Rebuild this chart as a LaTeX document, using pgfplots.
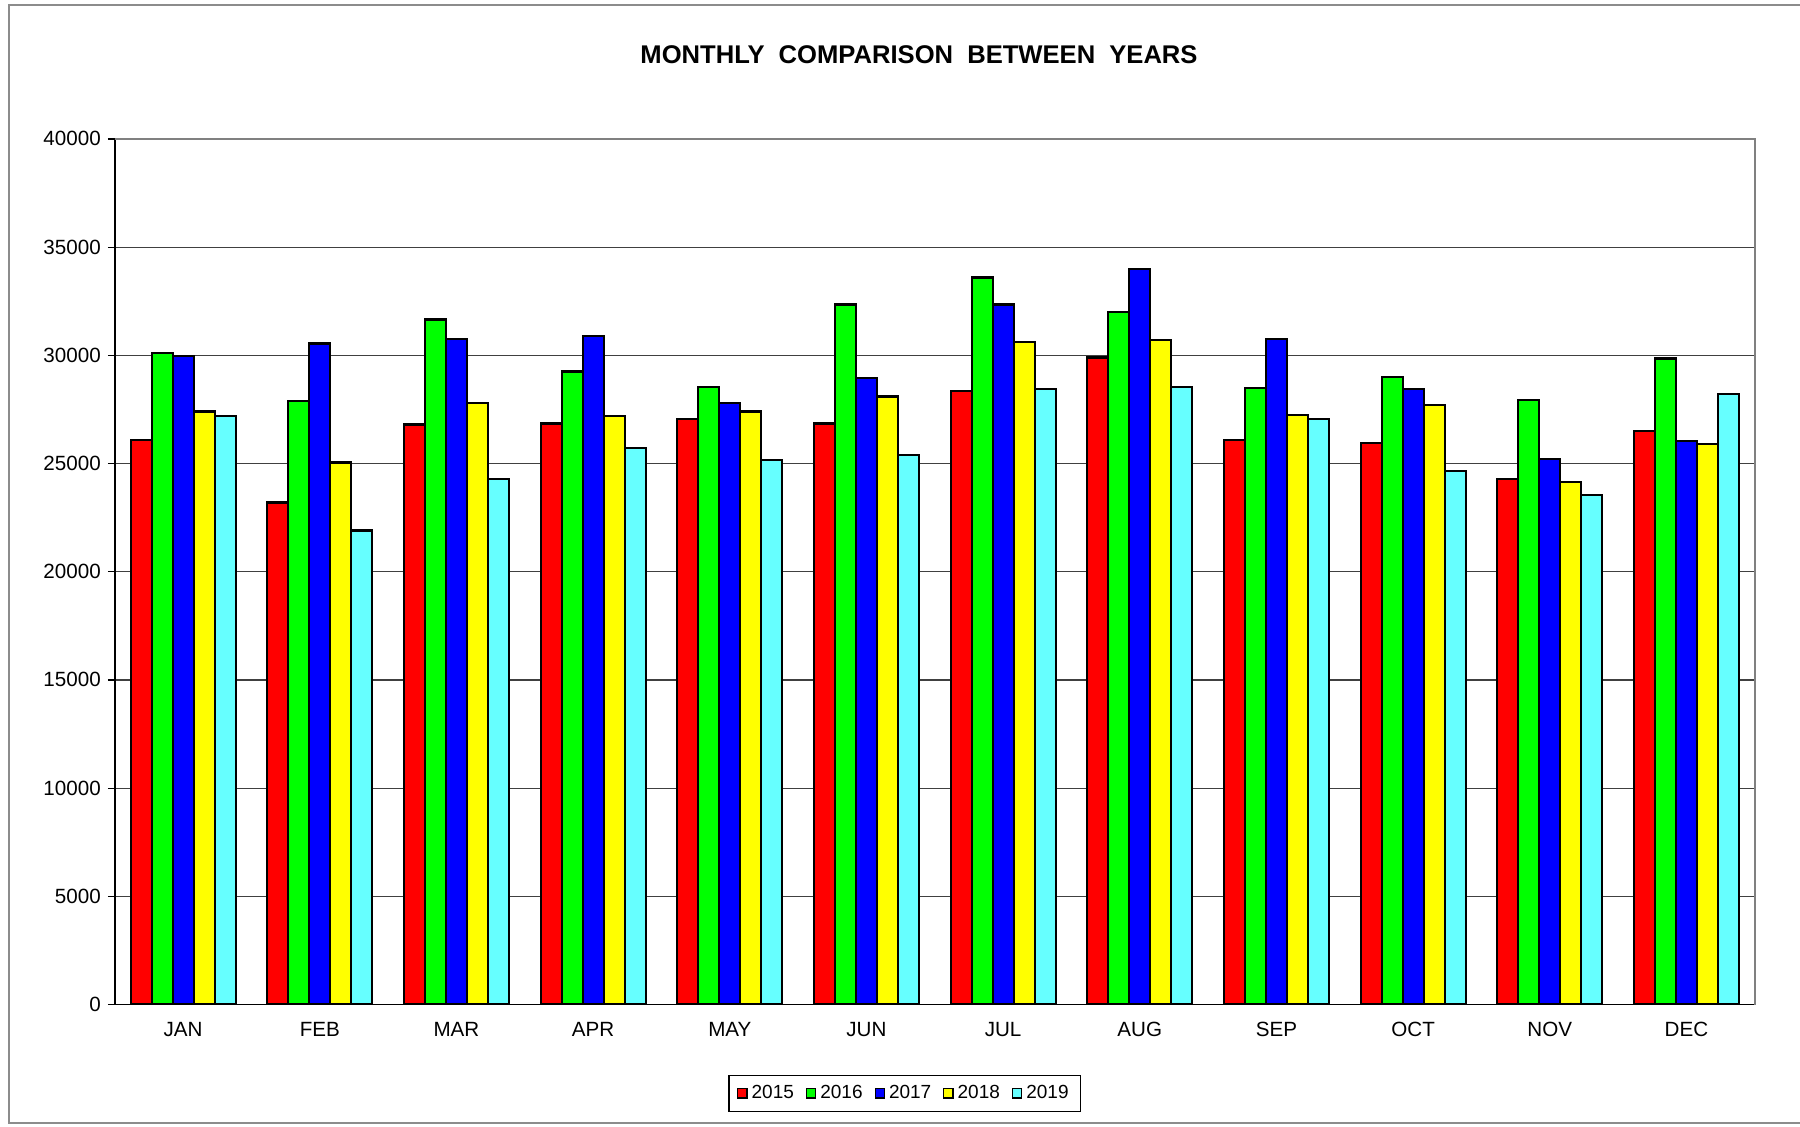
\documentclass[border=0pt]{standalone}
\usepackage{pgfplots}
\pgfplotsset{compat=1.18}
\usepackage{pgfplotstable}
\usepackage{fontspec}
\setmainfont{Liberation Sans}
\definecolor{cA}{HTML}{FF0000}
\definecolor{cB}{HTML}{00FF00}
\definecolor{cC}{HTML}{0000FF}
\definecolor{cD}{HTML}{FFFF00}
\definecolor{cE}{HTML}{66FFFF}
\pgfplotstableread{
x y15 y16 y17 y18 y19
0 26100 30100 29950 27400 27200
1 23200 27900 30550 25050 21900
2 26800 31650 30750 27800 24300
3 26850 29250 30900 27200 25700
4 27050 28550 27800 27400 25150
5 26850 32350 28950 28100 25400
6 28350 33600 32350 30600 28450
7 29900 32000 34000 30700 28550
8 26100 28500 30750 27250 27050
9 25950 29000 28450 27700 24650
10 24300 27950 25200 24150 23550
11 26500 29850 26050 25900 28200
}\datatable
\begin{document}
\begin{tikzpicture}
\useasboundingbox (0pt,0pt) rectangle (900pt,563pt);
\draw[black!45, line width=1pt] (900pt,560.5pt) -- (4.5pt,560.5pt) -- (4.5pt,1.5pt) -- (900pt,1.5pt);
\node[font=\bfseries\fontsize{12.8}{15}\selectfont] at (459.5pt,535.5pt) {MONTHLY\hspace{0.55em}COMPARISON\hspace{0.55em}BETWEEN\hspace{0.55em}YEARS};
\begin{axis}[
  at={(57.4pt,60.75pt)}, anchor=south west,
  width=820pt, height=432.8pt, scale only axis,
  xmin=-0.5, xmax=11.5, ymin=0, ymax=40000,
  ybar=0pt, bar width=10.5pt,
  xtick={0,...,11},
  xticklabels={JAN,FEB,MAR,APR,MAY,JUN,JUL,AUG,SEP,OCT,NOV,DEC},
  major x tick style={draw=none},
  extra x ticks={-0.5,0.5,...,11.5},
  extra x tick labels={},
  extra x tick style={major tick length=4.5pt, tick style={draw=black, line width=0.6pt}},
  ytick={0,5000,...,40000},
  scaled y ticks=false,
  yticklabel style={/pgf/number format/.cd, fixed, 1000 sep={}, assume math mode=true},
  tick align=outside, xtick pos=bottom, ytick pos=left,
  major tick length=3.5pt,
  tick style={black, line width=0.6pt},
  ymajorgrids, grid style={black!75, line width=0.6pt},
  axis line style={black, line width=0.8pt},
  ticklabel style={font=\fontsize{10.3}{12}\selectfont},
  xticklabel style={yshift=-2pt},
  legend style={at={(0.4818,-0.1028)}, anchor=center, legend columns=5,
    draw=black, line width=0.8pt, font=\fontsize{9.5}{11}\selectfont,
    inner xsep=4pt, inner ysep=3pt,
    /tikz/every even column/.append style={column sep=4pt}},
  legend image code/.code={\draw[#1, line width=0.6pt] (0pt,-2.3pt) rectangle (4.6pt,2.3pt);},
  after end axis/.code={
    \draw[black!50, line width=1pt] (rel axis cs:0,1) -- (rel axis cs:1,1) -- (rel axis cs:1,0);
  },
]
\addplot[fill=cA, draw=black, line width=1.1pt] table[x=x,y=y15]{\datatable};
\addlegendentry{2015}
\addplot[fill=cB, draw=black, line width=1.1pt] table[x=x,y=y16]{\datatable};
\addlegendentry{2016}
\addplot[fill=cC, draw=black, line width=1.1pt] table[x=x,y=y17]{\datatable};
\addlegendentry{2017}
\addplot[fill=cD, draw=black, line width=1.1pt] table[x=x,y=y18]{\datatable};
\addlegendentry{2018}
\addplot[fill=cE, draw=black, line width=1.1pt] table[x=x,y=y19]{\datatable};
\addlegendentry{2019}
\end{axis}
\end{tikzpicture}
\end{document}
